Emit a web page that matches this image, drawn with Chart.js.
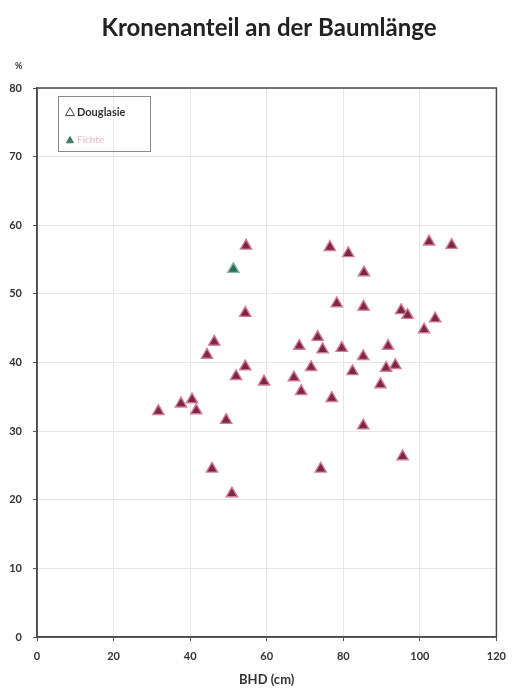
<!DOCTYPE html>
<html>
<head>
<meta charset="utf-8">
<script src="https://cdn.jsdelivr.net/npm/chart.js@4"></script>
<style>
  body { margin: 0; background: #fff; }
  #wrap { width: 515px; height: 693px; }
</style>
</head>
<body>
<div id="wrap"><canvas id="chart" width="515" height="693"></canvas></div>
<script>
// BHD (cm) and crown share (%)
const douglasieBhd = [31.7, 37.6, 40.5, 41.6, 44.4, 46.3, 45.7, 49.4, 50.9, 52.0, 54.4, 54.4, 54.6, 59.3,
    67.1, 68.5, 69.0, 71.6, 73.3, 74.1, 74.6, 76.5, 77.0, 78.3, 79.6, 81.3, 82.4, 85.2, 85.2, 85.3, 85.4,
    89.7, 91.2, 91.7, 93.6, 95.1, 95.5, 96.8, 101.1, 102.4, 104.0, 108.3];
const douglasieKrone = [32.9, 34.0, 34.6, 33.0, 41.1, 43.0, 24.5, 31.6, 20.9, 38.0, 39.4, 47.2, 57.0, 37.2,
    37.8, 42.4, 35.8, 39.3, 43.7, 24.5, 41.9, 56.8, 34.8, 48.6, 42.1, 55.9, 38.7, 40.9, 30.8, 48.1, 53.1,
    36.8, 39.2, 42.4, 39.6, 47.6, 26.3, 46.9, 44.8, 57.6, 46.4, 57.1];
const fichteBhd = [51.3];
const fichteKrone = [53.6];
const xTicks = [0, 20, 40, 60, 80, 100, 120];
const yTicks = [0, 10, 20, 30, 40, 50, 60, 70, 80];

const toPoints = (xs, ys) => xs.map((x, i) => ({ x: x, y: ys[i] }));
const font = "Lato, 'Open Sans', sans-serif";

// title, frame round the plot area, "%" label and the legend box
const extras = {
    id: 'extras',
    afterDraw(chart) {
        const ctx = chart.ctx;
        const a = chart.chartArea;
        ctx.save();
        ctx.fillStyle = '#222';
        ctx.font = "bold 24px " + font;
        ctx.textAlign = 'center';
        ctx.textBaseline = 'middle';
        ctx.fillText('Kronenanteil an der Baumlänge', 269, 28);

        ctx.strokeStyle = '#4a4a4a';
        ctx.lineWidth = 1.5;
        ctx.strokeRect(a.left, a.top, a.right - a.left, a.bottom - a.top);

        ctx.fillStyle = '#333';
        ctx.font = "bold 9px " + font;
        ctx.textAlign = 'left';
        ctx.fillText('%', 15, 66);

        // legend
        ctx.strokeStyle = '#8a8a8a';
        ctx.lineWidth = 1;
        ctx.strokeRect(58.5, 96.5, 92, 55);
        tri(ctx, 70, 112, 4.5, '#fff', '#444');
        ctx.fillStyle = '#333';
        ctx.font = "bold 11px " + font;
        ctx.fillText('Douglasie', 77, 112);
        tri(ctx, 70, 140, 3.5, '#3f7a66', '#3f7a66');
        ctx.fillStyle = '#e7b7c5';
        ctx.font = "10px " + font;
        ctx.fillText('Fichte', 77, 140);
        ctx.restore();
    }
};

function tri(ctx, x, y, r, fill, stroke) {
    ctx.beginPath();
    ctx.moveTo(x, y - r);
    ctx.lineTo(x + r, y + r * 0.8);
    ctx.lineTo(x - r, y + r * 0.8);
    ctx.closePath();
    ctx.fillStyle = fill;
    ctx.fill();
    ctx.strokeStyle = stroke;
    ctx.lineWidth = 1;
    ctx.stroke();
}

new Chart(document.getElementById('chart'), {
    type: 'scatter',
    data: {
        datasets: [{
            label: 'Douglasie',
            data: toPoints(douglasieBhd, douglasieKrone),
            pointStyle: 'triangle',
            pointRadius: 6.5,
            backgroundColor: '#7d2744',
            borderColor: '#d27a98',
            borderWidth: 1.4
        }, {
            label: 'Fichte',
            data: toPoints(fichteBhd, fichteKrone),
            pointStyle: 'triangle',
            pointRadius: 6.5,
            backgroundColor: '#2f6a56',
            borderColor: '#7fb8a4',
            borderWidth: 1.4
        }]
    },
    options: {
        responsive: false,
        animation: false,
        layout: { padding: { left: 0, right: 17, top: 88, bottom: 5 } },
        plugins: {
            legend: { display: false },
            tooltip: { enabled: false },
            title: { display: false }
        },
        scales: {
            x: {
                type: 'linear',
                min: 0,
                max: 120,
                afterBuildTicks: s => { s.ticks = xTicks.map(v => ({ value: v })); },
                afterFit: s => { s.height = 51; },
                grid: { color: '#e6e6e6', tickLength: 4, tickColor: '#555' },
                border: { color: '#4a4a4a', width: 1.5 },
                ticks: { color: '#333', font: { family: font, size: 11, weight: 'bold' }, padding: 9, maxRotation: 0 },
                title: {
                    display: true,
                    text: 'BHD (cm)',
                    color: '#333',
                    font: { family: font, size: 13, weight: 'bold' },
                    padding: { top: 2, bottom: 0 }
                }
            },
            y: {
                type: 'linear',
                min: 0,
                max: 80,
                afterBuildTicks: s => { s.ticks = yTicks.map(v => ({ value: v })); },
                afterFit: s => { s.width = 37; },
                grid: { color: '#e6e6e6', tickLength: 4, tickColor: '#555' },
                border: { color: '#4a4a4a', width: 1.5 },
                ticks: { color: '#333', font: { family: font, size: 11, weight: 'bold' }, padding: 11 }
            }
        }
    },
    plugins: [extras]
});
</script>
</body>
</html>
